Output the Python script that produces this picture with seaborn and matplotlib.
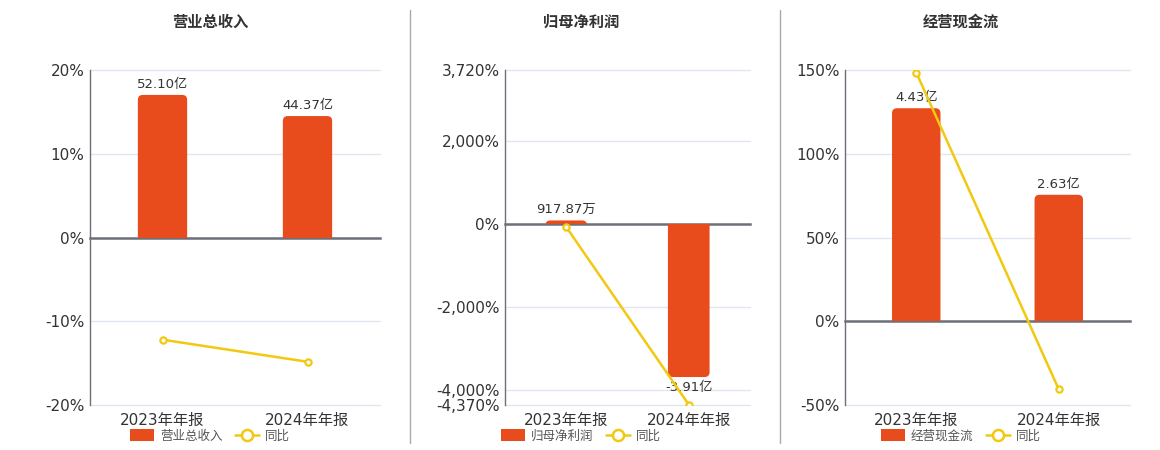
import matplotlib
matplotlib.use('Agg')
import matplotlib.pyplot as plt
from matplotlib.patches import Patch, FancyBboxPatch, Rectangle
from matplotlib.lines import Line2D
from matplotlib.ticker import FuncFormatter
import seaborn as sns
import numpy as np

# ---------------------------------------------------------------------------
# Data
# ---------------------------------------------------------------------------
periods = ['2023年年报', '2024年年报']

titles = ['营业总收入', '归母净利润', '经营现金流']

revenue_vals   = [52.10, 44.37]          # 亿
revenue_labels = ['52.10亿', '44.37亿']
revenue_yoy    = [-12.2, -14.84]          # %

profit_vals    = [0.091787, -3.91]        # 亿
profit_labels  = ['917.87万', '-3.91亿']
profit_yoy     = [-72.0, -4359.8]         # %

cash_vals      = [4.43, 2.63]             # 亿
cash_labels    = ['4.43亿', '2.63亿']
cash_yoy       = [148.5, -40.6]           # %

pct_limits  = [(-20, 20), (-4370, 3720), (-50, 150)]
pct_ticks   = [[-20, -10, 0, 10, 20],
               [-4370, -4000, -2000, 0, 2000, 3720],
               [-50, 0, 50, 100, 150]]
bar_limits  = [(-61.2, 61.2), (-4.625, 3.937), (-1.742, 5.225)]

# ---------------------------------------------------------------------------
# Style
# ---------------------------------------------------------------------------
sns.set_style('white')
plt.rcParams['font.family'] = ['DejaVu Sans', 'Noto Sans CJK SC']

BAR_C  = '#E84B1C'
LINE_C = '#F2C811'
TEXT_C = '#333333'
AXIS_C = '#6E7079'
GRID_C = '#E0E6F1'

W, H = 1160, 450
fig = plt.figure(figsize=(W / 100, H / 100), dpi=100)

# pixel boxes for each plot area: (left, right, top, bottom)
boxes   = [(90, 380, 70, 405), (505, 750, 70, 405), (845, 1130, 70, 405)]
centers = [210, 581, 961]

panels = [
    (revenue_vals, revenue_labels, revenue_yoy),
    (profit_vals, profit_labels, profit_yoy),
    (cash_vals, cash_labels, cash_yoy),
]


def round_bars(axb, radius_px, px_w, px_h):
    """Swap the square bars for ones with a rounded outer end."""
    x0, x1 = axb.get_xlim()
    y0, y1 = axb.get_ylim()
    ux = (x1 - x0) / px_w      # x data units per pixel
    uy = (y1 - y0) / px_h      # y data units per pixel
    span = y1 - y0
    for bar in list(axb.containers[0]):
        x, w, h = bar.get_x(), bar.get_width(), bar.get_height()
        r = min(radius_px * ux, w / 2)
        ext = radius_px * 1.5 * uy
        if h >= 0:
            lo, hi = -ext, h
            clip = Rectangle((x - w, 0), 3 * w, 2 * span,
                             transform=axb.transData)
        else:
            lo, hi = h, ext
            clip = Rectangle((x - w, -2 * span), 3 * w, 2 * span,
                             transform=axb.transData)
        new = FancyBboxPatch((x, lo), w, hi - lo,
                             boxstyle=f'round,pad=0,rounding_size={r}',
                             mutation_aspect=uy / ux,
                             facecolor=bar.get_facecolor(), edgecolor='none',
                             zorder=2)
        axb.add_patch(new)
        new.set_clip_path(clip)
        bar.set_visible(False)


for i, (vals, labels, yoy) in enumerate(panels):
    l, r, t, b = boxes[i]
    rect = [l / W, 1 - b / H, (r - l) / W, (b - t) / H]
    ax = fig.add_axes(rect)

    # bars on a hidden twin, line on another twin on top
    axb = ax.twinx()
    axl = ax.twinx()

    sns.barplot(x=periods, y=vals, ax=axb, color=BAR_C, width=0.34,
                saturation=1, edgecolor='none', zorder=2)
    axb.set_ylim(*bar_limits[i])
    axb.set_xlim(-0.5, 1.5)
    axb.bar_label(axb.containers[0], labels=labels, padding=3,
                  fontsize=9.5, color=TEXT_C)
    round_bars(axb, 5, r - l, b - t)

    sns.pointplot(x=periods, y=yoy, ax=axl, color=LINE_C, markers='o',
                  linewidth=1.8, markersize=4.5, markerfacecolor='white',
                  markeredgewidth=1.6, markeredgecolor=LINE_C)
    axl.set_ylim(*pct_limits[i])

    # main axis: percent ticks + grid
    ax.set_ylim(*pct_limits[i])
    ax.set_xlim(-0.5, 1.5)
    ax.set_yticks(pct_ticks[i])
    ax.yaxis.set_major_formatter(FuncFormatter(lambda v, p: f'{v:,.0f}%'))
    ax.grid(axis='y', color=GRID_C, linewidth=1)
    ax.grid(axis='x', visible=False)
    for gl in ax.get_ygridlines():
        gl.set_clip_on(False)
    ax.tick_params(axis='y', labelsize=11, colors=TEXT_C, length=0, pad=4)
    for s in ['top', 'right']:
        ax.spines[s].set_visible(False)
    ax.spines['left'].set_color(AXIS_C)
    ax.spines['left'].set_linewidth(1)
    ax.spines['bottom'].set_position(('data', 0))
    ax.spines['bottom'].set_color(AXIS_C)
    ax.spines['bottom'].set_linewidth(1.8)
    ax.set_xticks([-0.5, 0.5, 1.5], minor=True)
    ax.tick_params(axis='x', which='major', length=0, labelbottom=False)
    ax.tick_params(axis='x', which='minor', length=5, color=AXIS_C,
                   width=1, direction='out')

    for a in (axb, axl):
        a.set_ylabel('')
        a.set_xlabel('')
        a.set_yticks([])
        for s in a.spines.values():
            s.set_visible(False)
        a.tick_params(axis='x', which='both', length=0, labelbottom=False)
    axl.xaxis.set_visible(True)
    axl.set_xlim(-0.5, 1.5)
    axl.tick_params(axis='x', which='major', labelbottom=True, labelsize=11,
                    labelcolor=TEXT_C, pad=6)
    ax.set_zorder(0)
    axb.set_zorder(1)
    axl.set_zorder(2)

    fig.text(centers[i] / W, 1 - 22 / H, titles[i], ha='center', va='center',
             fontsize=11, fontweight='bold', color=TEXT_C)

    handles = [
        Patch(facecolor=BAR_C, edgecolor='none', label=titles[i]),
        Line2D([0], [0], color=LINE_C, linewidth=1.8, marker='o',
               markersize=8, markerfacecolor='white', markeredgewidth=1.8,
               label='同比'),
    ]
    fig.legend(handles=handles, loc='center',
               bbox_to_anchor=(centers[i] / W, 1 - 436 / H), ncol=2,
               frameon=False, fontsize=9, handlelength=1.9, handleheight=1.1,
               handletextpad=0.5, columnspacing=1.0, labelcolor='#555555')

# separators between panels
for x in (410, 780):
    fig.add_artist(Line2D([x / W, x / W], [1 - 10 / H, 1 - 443 / H],
                          color='#AAAAAA', linewidth=1))

fig.savefig('out.png', dpi=100)
